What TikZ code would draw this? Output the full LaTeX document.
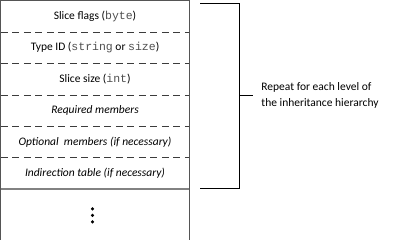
\documentclass[tikz,border=0pt]{standalone}
\usepackage{fontspec}
\setmainfont{Carlito}
\setmonofont{Liberation Mono}
\usepackage{tikz}
\usetikzlibrary{positioning,calc}
\definecolor{boxgray}{RGB}{85,85,85}
\definecolor{divgray}{RGB}{130,130,130}
\definecolor{dashgray}{RGB}{60,60,60}
\definecolor{codegray}{RGB}{80,80,80}
\newcommand{\code}[1]{\textcolor{codegray}{\texttt{#1}}}
\tikzset{
  fld/.style ={minimum width=188pt,minimum height=31pt,inner sep=0pt,font=\fontsize{11.5}{14}\selectfont},
  ifld/.style={fld,font=\fontsize{11.5}{14}\selectfont\itshape},
  sep/.style ={draw=dashgray,line width=0.8pt,dash pattern=on 7pt off 4.5pt},
  brk/.style ={draw=black,line width=1.3pt},
}
\begin{document}
\begin{tikzpicture}
\useasboundingbox (0,0) rectangle (398pt,-240pt);
\node[fld] (flags) at (95pt,-16.5pt) {Slice flags (\code{byte})};
\node[fld,below=0pt of flags] (tid) {Type ID (\code{string} or \code{size})};
\node[fld,below=0pt of tid] (ssize) {Slice size (\code{int})};
\node[ifld,below=0pt of ssize] (req) {Required members};
\node[ifld,below=0pt of req] (opt) {Optional\ \ members (if necessary)};
\node[ifld,below=0pt of opt] (ind) {Indirection table (if necessary)};
\node[fld,below=0pt of ind,minimum height=52pt] (more) {};
% dashed separators
\foreach \a in {flags,tid,ssize,req,opt}
  \draw[sep] (\a.south west) -- (\a.south east);
\draw[draw=divgray,line width=1.6pt] (ind.south west) -- (ind.south east);
\draw[draw=boxgray,line width=0.8pt] (flags.north west) rectangle (more.south east);
% dots
\foreach \d in {-6.5,0,6.5}
  \fill ($(more.center)+(-2.5pt,\d pt)$) circle (1.7pt);
% bracket
\coordinate (bt) at ($(flags.north east)+(11pt,-2.5pt)$);
\coordinate (bb) at ($(ind.south east)+(11pt,1pt)$);
\coordinate (bm) at ($(bt)!0.5!(bb)+(39pt,0)$);
\draw[brk] (bt) -- ++(39pt,0) |- (bb);
\node[anchor=west,align=left,inner sep=0pt,font=\fontsize{11.5}{16}\selectfont] (note) at ($(bm)+(22pt,0)$) {Repeat for each level of\\the inheritance hierarchy};
\draw[brk] (bm) -- ++(14pt,0);
\end{tikzpicture}
\end{document}
